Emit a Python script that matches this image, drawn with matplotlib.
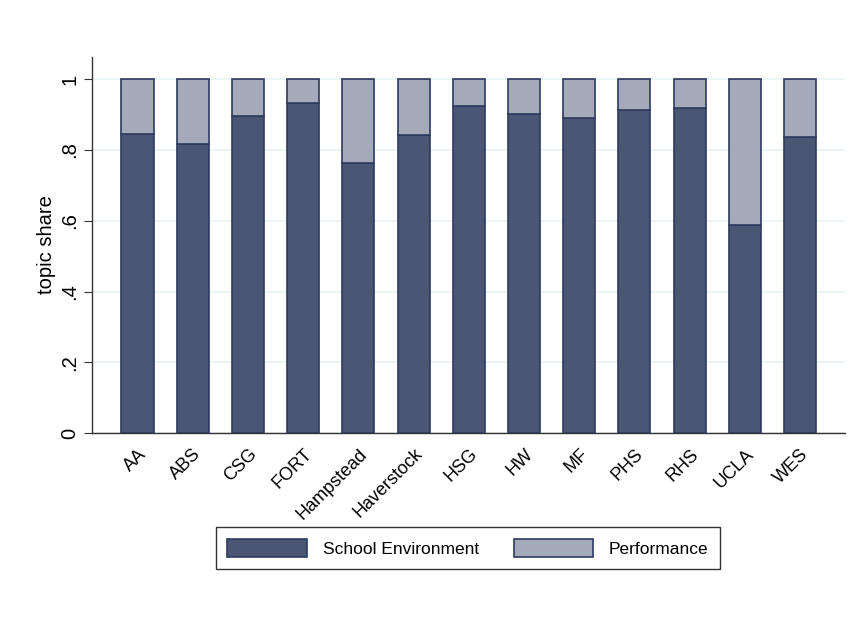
import matplotlib
matplotlib.use("Agg")
import numpy as np
import matplotlib.pyplot as plt

plt.rcParams['font.family'] = ['Liberation Sans', 'DejaVu Sans']

schools = ['AA', 'ABS', 'CSG', 'FORT', 'Hampstead', 'Haverstock', 'HSG',
           'HW', 'MF', 'PHS', 'RHS', 'UCLA', 'WES']
school_env = [0.845, 0.817, 0.896, 0.934, 0.762, 0.842, 0.924,
              0.901, 0.890, 0.912, 0.918, 0.588, 0.837]
performance = [1 - v for v in school_env]
yticks = [0, 0.2, 0.4, 0.6, 0.8, 1]
yticklabels = ['0', '.2', '.4', '.6', '.8', '1']

dark = '#4a5674'
light = '#a5aabb'
edge = '#2e3b5e'

fig = plt.figure(figsize=(8.56, 6.25), dpi=100)
ax = fig.add_axes([0.1071, 0.3072, 0.8799, 0.6016])

x = np.arange(len(schools))
ax.bar(x, school_env, width=0.58, color=dark, edgecolor=edge, linewidth=1.2,
       label='School Environment', zorder=3)
ax.bar(x, performance, width=0.58, bottom=school_env, color=light,
       edgecolor=edge, linewidth=1.2, label='Performance', zorder=3)

ax.set_xlim(-0.83, 12.81)
ax.set_ylim(0, 1.063)
ax.set_yticks(yticks)
ax.set_yticklabels(yticklabels, rotation=90, va='center', fontsize=14.5)
ax.yaxis.grid(True, color='#eaf2f3', linewidth=1.2, zorder=0)
ax.set_xticks(x)
ax.set_xticklabels(schools, rotation=45, ha='right', rotation_mode='anchor',
                   fontsize=13)
ax.set_ylabel('topic share', fontsize=14.5, labelpad=3)

for s in ['top', 'right']:
    ax.spines[s].set_visible(False)
for s in ['left', 'bottom']:
    ax.spines[s].set_color('#333333')
    ax.spines[s].set_linewidth(1.0)
ax.tick_params(axis='y', length=6, color='#333333', pad=3)
ax.tick_params(axis='x', length=0, pad=9)

leg = fig.legend(loc='center', bbox_to_anchor=(468 / 856, 1 - 548 / 625),
                 ncol=2, fontsize=12.5, frameon=True, fancybox=False,
                 edgecolor='black', handlelength=4.6, handleheight=1.3,
                 columnspacing=2.0, borderpad=0.65, handletextpad=0.9)
leg.get_frame().set_linewidth(1.0)

fig.savefig('out.png', dpi=100, facecolor='white')
